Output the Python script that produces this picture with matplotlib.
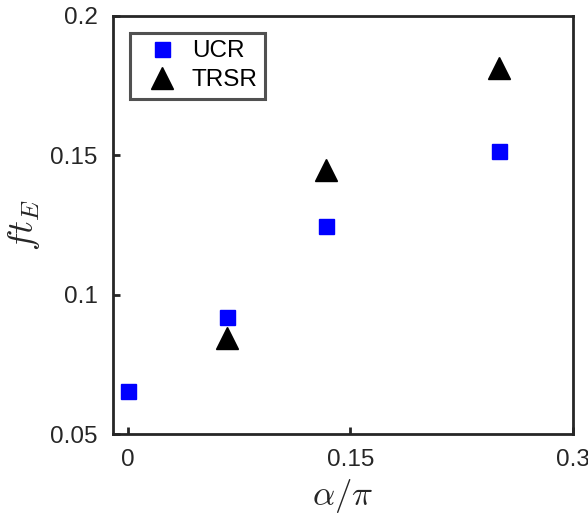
import numpy as np
import matplotlib.pyplot as plt

plt.rcParams['font.family'] = ['Liberation Sans', 'DejaVu Sans']
plt.rcParams['mathtext.fontset'] = 'cm'

# alpha/pi and ft_E for both schemes
alpha_ucr = [0.0, 1/15, 2/15, 0.25]
fte_ucr = [0.0655, 0.0921, 0.1245, 0.1514]
alpha_trsr = [1/15, 2/15, 0.25]
fte_trsr = [0.0845, 0.1446, 0.1813]

xticks = [0, 0.15, 0.3]
xticklabels = ['0', '0.15', '0.3']
yticks = [0.05, 0.1, 0.15, 0.2]
yticklabels = ['0.05', '0.1', '0.15', '0.2']

edge = '#262626'

fig = plt.figure(figsize=(5.88, 5.14), dpi=100)
ax = fig.add_axes([0.192, 0.1556, 0.7825, 0.8133])

ax.plot(alpha_ucr, fte_ucr, linestyle='none', marker='s', markersize=10.8,
        color='#0000ff', markeredgecolor='#0000ff', label='UCR')
ax.plot(alpha_trsr, fte_trsr, linestyle='none', marker='^', markersize=15.5,
        color='black', markeredgecolor='black', label='TRSR')

ax.set_xlim(-0.0101, 0.3)
ax.set_ylim(0.05, 0.2)
ax.set_xticks(xticks)
ax.set_xticklabels(xticklabels)
ax.set_yticks(yticks)
ax.set_yticklabels(yticklabels)

for s in ax.spines.values():
    s.set_linewidth(2.0)
    s.set_color(edge)
ax.tick_params(direction='in', length=5, width=2, color=edge,
               labelsize=17.5, labelcolor=edge)
ax.tick_params(axis='x', pad=11)
ax.tick_params(axis='y', pad=11)

ax.set_xlabel(r'$\alpha/\pi$', fontsize=25, color=edge, labelpad=4)
ax.set_ylabel(r'$ft_E$', fontsize=26, color=edge, labelpad=6)

leg = ax.legend(loc='upper left', bbox_to_anchor=(0.037, 0.96), fontsize=17.5,
                frameon=True, fancybox=False, handlelength=2.05,
                handletextpad=0.2, borderpad=0.3, labelspacing=0.3,
                borderaxespad=0)
leg.get_frame().set_edgecolor(edge)
leg.get_frame().set_linewidth(2.2)

plt.savefig('out.png', dpi=100)
plt.close(fig)
